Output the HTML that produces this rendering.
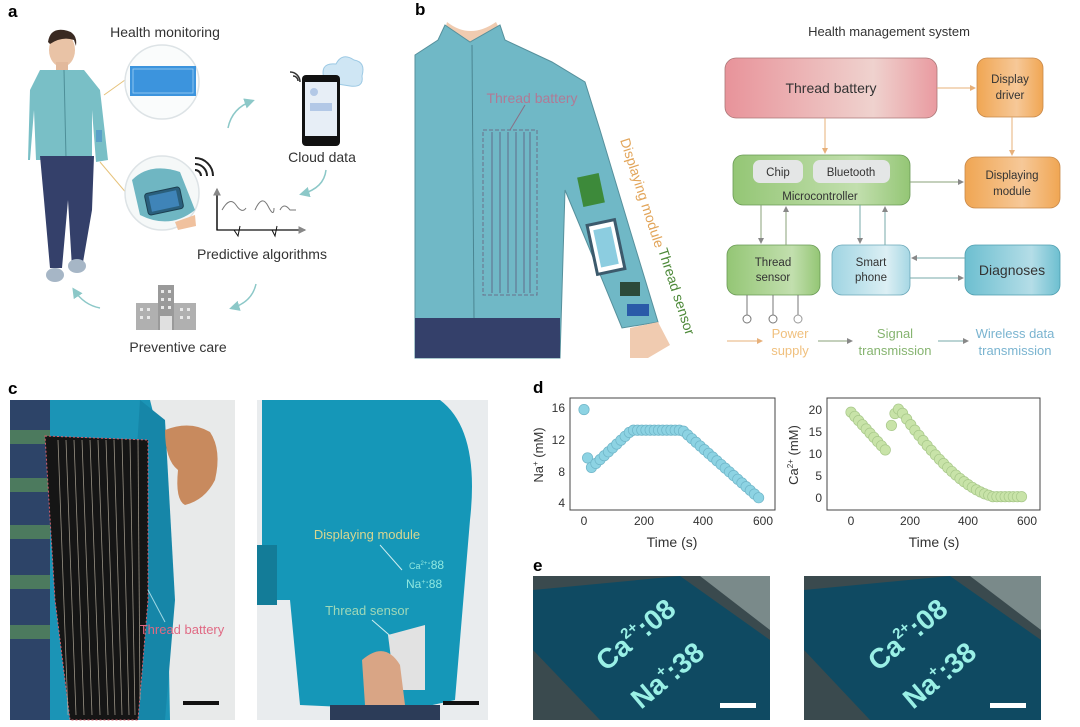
<!DOCTYPE html>
<html><head><meta charset="utf-8"><style>
html,body{margin:0;padding:0;background:#fff}
svg{display:block}
text{font-family:"Liberation Sans",sans-serif}
</style></head><body>
<svg width="1080" height="727" viewBox="0 0 1080 727" xmlns="http://www.w3.org/2000/svg">
<defs>
<linearGradient id="gbat" x1="0" x2="1"><stop offset="0" stop-color="#e8939a"/><stop offset="0.7" stop-color="#efd2ce"/><stop offset="1" stop-color="#e99aa0"/></linearGradient>
<linearGradient id="gor" x1="0" x2="1"><stop offset="0" stop-color="#f0a653"/><stop offset="0.6" stop-color="#f6c898"/><stop offset="1" stop-color="#f0a653"/></linearGradient>
<linearGradient id="ggr" x1="0" x2="1"><stop offset="0" stop-color="#94c675"/><stop offset="0.7" stop-color="#c2dfae"/><stop offset="1" stop-color="#94c675"/></linearGradient>
<linearGradient id="gbl" x1="0" x2="1"><stop offset="0" stop-color="#9fd4e2"/><stop offset="0.7" stop-color="#dceff4"/><stop offset="1" stop-color="#a6d7e4"/></linearGradient>
<linearGradient id="gdi" x1="0" x2="1"><stop offset="0" stop-color="#6dbfd0"/><stop offset="0.7" stop-color="#b4dde7"/><stop offset="1" stop-color="#6dbfd0"/></linearGradient>
<marker id="ar" markerWidth="6" markerHeight="6" refX="5" refY="3" orient="auto"><path d="M0,0 L6,3 L0,6 z" fill="#888"/></marker>
<marker id="ao" markerWidth="6" markerHeight="6" refX="5" refY="3" orient="auto"><path d="M0,0 L6,3 L0,6 z" fill="#e7b07a"/></marker>
<marker id="at" markerWidth="7" markerHeight="7" refX="5" refY="3.5" orient="auto"><path d="M0,0 L7,3.5 L0,7 z" fill="#8cc8c8"/></marker>
</defs>

<!-- ===== Panel a ===== -->
<text x="8" y="17" font-size="17" font-weight="bold">a</text>
<text x="165" y="37" font-size="14" text-anchor="middle" fill="#333">Health monitoring</text>
<ellipse cx="62" cy="50" rx="13" ry="17" fill="#e9c3a6"/>
<path d="M48,42 Q50,28 64,30 Q78,32 76,46 L74,40 Q62,36 50,44z" fill="#3a2a22"/>
<rect x="56" y="62" width="12" height="8" fill="#e2b99c"/>
<path d="M40,70 L84,70 L100,90 L108,160 L96,162 L92,110 L92,160 L36,160 L34,110 L30,160 L28,160 L30,90z" fill="#79bfc6"/>
<line x1="64" y1="70" x2="66" y2="158" stroke="#4e8f98" stroke-width="1"/>
<path d="M40,156 L94,156 L92,210 L82,268 L72,268 L68,200 L62,268 L50,268 L44,200z" fill="#34406a"/>
<ellipse cx="55" cy="275" rx="9" ry="7" fill="#a6b6c6"/>
<ellipse cx="77" cy="266" rx="9" ry="7" fill="#a6b6c6"/>
<rect x="96" y="130" width="6" height="12" fill="#5aa0c8"/>
<line x1="104" y1="95" x2="125" y2="80" stroke="#e6c27a" stroke-width="1"/>
<line x1="100" y1="162" x2="128" y2="195" stroke="#e6c27a" stroke-width="1"/>
<circle cx="162" cy="82" r="37" fill="#fafcfc" stroke="#dde3e6" stroke-width="1.5"/>
<rect x="130" y="66" width="66" height="30" fill="#3c94dd"/>
<rect x="133" y="69" width="60" height="24" fill="none" stroke="#9fd0f4" stroke-width="0.8"/>
<circle cx="162" cy="193" r="37" fill="#f5f8f8" stroke="#dde3e6" stroke-width="1.5"/>
<path d="M132,180 Q150,162 180,172 L195,210 Q170,230 140,215z" fill="#6fb6c2"/>
<rect x="146" y="190" width="36" height="22" rx="3" transform="rotate(-12 164 201)" fill="#2a5f7c" stroke="#1c3f50"/>
<rect x="150" y="193" width="28" height="16" transform="rotate(-12 164 201)" fill="#3f84b8"/>
<path d="M175,222 L195,215 L196,226 L178,230z" fill="#f0c19e"/>
<path d="M195,170 a6,6 0 0 1 6,6 M195,164 a12,12 0 0 1 12,12 M195,158 a18,18 0 0 1 18,18" stroke="#222" stroke-width="2" fill="none"/>
<path d="M228,128 Q232,108 252,101" stroke="#8cc8c8" stroke-width="1.5" fill="none" marker-end="url(#at)"/>
<path d="M326,170 Q324,188 302,194" stroke="#8cc8c8" stroke-width="1.5" fill="none" marker-end="url(#at)"/>
<path d="M256,284 Q252,302 232,308" stroke="#8cc8c8" stroke-width="1.5" fill="none" marker-end="url(#at)"/>
<path d="M100,308 Q84,305 74,290" stroke="#8cc8c8" stroke-width="1.5" fill="none" marker-end="url(#at)"/>
<path d="M325,82 Q318,62 336,64 Q342,52 354,60 Q366,62 362,76 Q364,88 350,86 Z" fill="#cfe6f4" stroke="#9cc9e4"/>
<rect x="302" y="75" width="38" height="71" rx="4" fill="#111"/>
<rect x="305" y="82" width="32" height="54" fill="#e7eef6"/>
<rect x="310" y="103" width="22" height="8" fill="#b3c8e6"/>
<circle cx="314" cy="92" r="4" fill="#b3c8e6"/>
<path d="M293,76 a5,5 0 0 1 5,5 M290,72 a10,10 0 0 1 10,10" stroke="#333" stroke-width="1.5" fill="none"/>
<text x="322" y="162" font-size="14" text-anchor="middle" fill="#333">Cloud data</text>
<path d="M217,190 L217,230 L305,230" stroke="#111" stroke-width="1.3" fill="none" marker-end="url(#ar)"/>
<line x1="217" y1="230" x2="217" y2="189" stroke="#111" stroke-width="1.3" marker-end="url(#ar)"/>
<path d="M222,210 Q230,196 236,205 T246,208 M255,210 Q262,194 268,206 T274,208 M280,210 Q284,202 290,210 L296,210" stroke="#777" stroke-width="1" fill="none"/>
<path d="M234,230 L238,236 L240,226 M272,230 L275,236 L277,226" stroke="#111" fill="none"/>
<text x="262" y="259" font-size="14" text-anchor="middle" fill="#333">Predictive algorithms</text>
<rect x="158" y="285" width="16" height="45" fill="#9a9a9a"/>
<rect x="136" y="303" width="22" height="27" fill="#b0b0b0"/>
<rect x="174" y="303" width="22" height="27" fill="#b0b0b0"/>
<g fill="#e8e8e8"><rect x="161" y="290" width="3" height="3"/><rect x="168" y="290" width="3" height="3"/><rect x="161" y="298" width="3" height="3"/><rect x="168" y="298" width="3" height="3"/><rect x="161" y="306" width="3" height="3"/><rect x="168" y="306" width="3" height="3"/><rect x="140" y="308" width="3" height="3"/><rect x="147" y="308" width="3" height="3"/><rect x="140" y="316" width="3" height="3"/><rect x="147" y="316" width="3" height="3"/><rect x="180" y="308" width="3" height="3"/><rect x="187" y="308" width="3" height="3"/><rect x="180" y="316" width="3" height="3"/><rect x="187" y="316" width="3" height="3"/></g>
<rect x="160" y="316" width="12" height="14" fill="#e0e0e0"/>
<text x="178" y="352" font-size="14" text-anchor="middle" fill="#333">Preventive care</text>

<!-- ===== Panel b ===== -->
<text x="415" y="15" font-size="17" font-weight="bold">b</text>
<path d="M447,22 Q470,40 496,22 L500,30 L470,45 L445,30z" fill="#f0cbb0"/>
<path d="M445,25 L470,42 L500,25 L505,40 L552,62 L585,82 L600,130 L630,230 L658,322 L622,328 L590,250 L565,190 L560,358 L415,358 L415,55 L438,40z" fill="#70b8c6" stroke="#56909c" stroke-width="1"/>
<path d="M415,318 L560,318 L560,358 L415,358z" fill="#34406a"/>
<line x1="472" y1="45" x2="474" y2="318" stroke="#4a8592" stroke-width="1"/>
<rect x="483" y="130" width="54" height="165" fill="none" stroke="#6a6f8a" stroke-dasharray="4,2" stroke-width="1"/>
<g stroke="#5f6c8a" stroke-width="1"><line x1="492" y1="132" x2="492" y2="293"/><line x1="500" y1="132" x2="500" y2="293"/><line x1="508" y1="132" x2="508" y2="293"/><line x1="516" y1="132" x2="516" y2="293"/><line x1="524" y1="132" x2="524" y2="293"/><line x1="530" y1="132" x2="530" y2="293"/></g>
<line x1="510" y1="130" x2="525" y2="105" stroke="#8a6f85"/>
<text x="532" y="103" font-size="14" text-anchor="middle" fill="#b07a95">Thread battery</text>
<rect x="580" y="175" width="22" height="30" transform="rotate(-12 591 190)" fill="#3d8a3a"/>
<rect x="592" y="222" width="28" height="50" transform="rotate(-12 606 247)" fill="#ffffff" stroke="#3c5a6c" stroke-width="3"/>
<rect x="597" y="228" width="18" height="38" transform="rotate(-12 606 247)" fill="#8ccde0"/>
<rect x="620" y="282" width="20" height="14" fill="#2c4a3a"/>
<rect x="627" y="304" width="22" height="12" fill="#2a5aa8"/>
<path d="M630,328 L658,322 L670,345 L648,358 L630,358z" fill="#f0cbb0"/>
<text transform="translate(620,140) rotate(72)" font-size="14" fill="#e2a55a">Displaying module</text>
<text transform="translate(658,250) rotate(72)" font-size="14" fill="#4e8a3a">Thread sensor</text>

<text x="889" y="36" font-size="13" text-anchor="middle" fill="#333">Health management system</text>
<rect x="725" y="58" width="212" height="60" rx="11" fill="url(#gbat)" stroke="#a77" stroke-width="0.8"/>
<text x="831" y="93" font-size="14" text-anchor="middle" fill="#333">Thread battery</text>
<rect x="977" y="58" width="66" height="59" rx="10" fill="url(#gor)" stroke="#c8894a" stroke-width="0.8"/>
<text x="1010" y="83" font-size="11.5" text-anchor="middle" fill="#333">Display</text>
<text x="1010" y="99" font-size="11.5" text-anchor="middle" fill="#333">driver</text>
<rect x="733" y="155" width="177" height="50" rx="10" fill="url(#ggr)" stroke="#6a9a56" stroke-width="0.8"/>
<rect x="753" y="160" width="50" height="23" rx="7" fill="#e4e6e6"/>
<rect x="813" y="160" width="77" height="23" rx="7" fill="#e4e6e6"/>
<text x="778" y="176" font-size="11.5" text-anchor="middle" fill="#333">Chip</text>
<text x="851" y="176" font-size="11.5" text-anchor="middle" fill="#333">Bluetooth</text>
<text x="820" y="200" font-size="11.5" text-anchor="middle" fill="#333">Microcontroller</text>
<rect x="965" y="157" width="95" height="51" rx="10" fill="url(#gor)" stroke="#c8894a" stroke-width="0.8"/>
<text x="1012" y="179" font-size="11.5" text-anchor="middle" fill="#333">Displaying</text>
<text x="1012" y="195" font-size="11.5" text-anchor="middle" fill="#333">module</text>
<rect x="727" y="245" width="93" height="50" rx="10" fill="url(#ggr)" stroke="#6a9a56" stroke-width="0.8"/>
<text x="773" y="266" font-size="11.5" text-anchor="middle" fill="#333">Thread</text>
<text x="773" y="281" font-size="11.5" text-anchor="middle" fill="#333">sensor</text>
<rect x="832" y="245" width="78" height="50" rx="10" fill="url(#gbl)" stroke="#6aa7b8" stroke-width="0.8"/>
<text x="871" y="266" font-size="11.5" text-anchor="middle" fill="#333">Smart</text>
<text x="871" y="281" font-size="11.5" text-anchor="middle" fill="#333">phone</text>
<rect x="965" y="245" width="95" height="50" rx="10" fill="url(#gdi)" stroke="#4f9fb0" stroke-width="0.8"/>
<text x="1012" y="275" font-size="14" text-anchor="middle" fill="#333">Diagnoses</text>
<g stroke-width="1" fill="none">
<line x1="937" y1="88" x2="975" y2="88" stroke="#e7b07a" marker-end="url(#ao)"/>
<line x1="1012" y1="117" x2="1012" y2="155" stroke="#e7b07a" marker-end="url(#ao)"/>
<line x1="825" y1="118" x2="825" y2="153" stroke="#e7b07a" marker-end="url(#ao)"/>
<line x1="910" y1="182" x2="963" y2="182" stroke="#8aa078" marker-end="url(#ar)"/>
<line x1="761" y1="205" x2="761" y2="243" stroke="#8aa078" marker-end="url(#ar)"/>
<line x1="786" y1="245" x2="786" y2="207" stroke="#8aa078" marker-end="url(#ar)"/>
<line x1="860" y1="205" x2="860" y2="243" stroke="#7aa" marker-end="url(#ar)"/>
<line x1="885" y1="245" x2="885" y2="207" stroke="#7aa" marker-end="url(#ar)"/>
<line x1="965" y1="258" x2="912" y2="258" stroke="#7aa" marker-end="url(#ar)"/>
<line x1="910" y1="278" x2="963" y2="278" stroke="#7aa" marker-end="url(#ar)"/>
<path d="M747,295 V315 M773,295 V315 M798,295 V315" stroke="#777"/>
</g>
<circle cx="747" cy="319" r="4" fill="#fff" stroke="#777"/>
<circle cx="773" cy="319" r="4" fill="#fff" stroke="#777"/>
<circle cx="798" cy="319" r="4" fill="#fff" stroke="#999"/>
<line x1="727" y1="341" x2="762" y2="341" stroke="#e7b07a" marker-end="url(#ao)"/>
<line x1="818" y1="341" x2="852" y2="341" stroke="#8aa078" marker-end="url(#ar)"/>
<line x1="938" y1="341" x2="968" y2="341" stroke="#7aa" marker-end="url(#ar)"/>
<text x="790" y="338" font-size="13" text-anchor="middle" fill="#f0c07e">Power</text>
<text x="790" y="355" font-size="13" text-anchor="middle" fill="#f0c07e">supply</text>
<text x="895" y="338" font-size="13" text-anchor="middle" fill="#86b470">Signal</text>
<text x="895" y="355" font-size="13" text-anchor="middle" fill="#86b470">transmission</text>
<text x="1015" y="338" font-size="13" text-anchor="middle" fill="#7ab4d0">Wireless data</text>
<text x="1015" y="355" font-size="13" text-anchor="middle" fill="#7ab4d0">transmission</text>

<!-- ===== Panel c ===== -->
<text x="8" y="394" font-size="17" font-weight="bold">c</text>
<rect x="10" y="400" width="225" height="320" fill="#e8eaea"/>
<rect x="10" y="400" width="40" height="320" fill="#2d4468"/>
<g fill="#4c7a5e"><rect x="10" y="430" width="40" height="14"/><rect x="10" y="478" width="40" height="14"/><rect x="10" y="525" width="40" height="14"/><rect x="10" y="575" width="40" height="14"/><rect x="10" y="625" width="40" height="14"/></g>
<path d="M50,400 L150,400 L165,460 L170,720 L50,720z" fill="#1b94b6"/>
<path d="M140,400 L165,420 L175,600 L165,720 L120,720z" fill="#1686a8"/>
<path d="M45,436 L148,440 L148,600 L138,720 L70,720 L55,600z" fill="#151515" stroke="#d8606e" stroke-width="1" stroke-dasharray="2,2"/>
<g stroke="#b9b0a0" stroke-width="0.8" opacity="0.8">
<line x1="58" y1="440" x2="68" y2="715"/><line x1="66" y1="440" x2="76" y2="715"/><line x1="74" y1="440" x2="84" y2="715"/><line x1="82" y1="440" x2="92" y2="715"/><line x1="90" y1="440" x2="100" y2="715"/><line x1="98" y1="440" x2="108" y2="715"/><line x1="106" y1="440" x2="115" y2="715"/><line x1="114" y1="440" x2="122" y2="715"/><line x1="122" y1="440" x2="129" y2="715"/><line x1="130" y1="440" x2="135" y2="715"/><line x1="138" y1="440" x2="140" y2="700"/></g>
<path d="M165,430 Q190,420 210,432 Q222,450 215,480 Q205,500 185,505 Q175,500 178,470 Q165,460 165,430z" fill="#c88a5e"/>
<line x1="148" y1="590" x2="165" y2="622" stroke="#9fd8e4"/>
<text x="182" y="634" font-size="13" text-anchor="middle" fill="#e06a84">Thread battery</text>
<rect x="183" y="701" width="36" height="4" fill="#111"/>
<rect x="257" y="400" width="231" height="320" fill="#e9ecee"/>
<path d="M262,400 L440,400 Q480,430 470,520 L455,700 L410,710 L300,705 L290,600 L262,600z" fill="#1597b8"/>
<rect x="257" y="545" width="20" height="60" fill="#137c98"/>
<path d="M388,635 L425,625 L425,690 L395,690z" fill="#e2e2e2"/>
<path d="M362,660 Q385,640 400,665 L405,705 L365,705z" fill="#d9a585"/>
<rect x="330" y="705" width="110" height="15" fill="#2c3c58"/>
<text x="367" y="539" font-size="13" text-anchor="middle" fill="#d8d690">Displaying module</text>
<line x1="380" y1="545" x2="402" y2="570" stroke="#cfeef0"/>
<text x="409" y="569" font-size="9" fill="#8fe8e0">Ca<tspan font-size="6" dy="-4">2+</tspan><tspan dy="4" font-size="12">:88</tspan></text>
<text x="406" y="588" font-size="12" fill="#8fe8e0">Na<tspan font-size="7" dy="-4">+</tspan><tspan dy="4">:88</tspan></text>
<text x="367" y="615" font-size="13" text-anchor="middle" fill="#9fd8b8">Thread sensor</text>
<line x1="372" y1="620" x2="395" y2="640" stroke="#cfeef0"/>
<rect x="443" y="701" width="36" height="4" fill="#111"/>

<!-- ===== Panel d ===== -->
<text x="533" y="393" font-size="17" font-weight="bold">d</text>
<rect x="570" y="398" width="205" height="112" fill="#fff" stroke="#444" stroke-width="1"/>
<rect x="827" y="398" width="213" height="112" fill="#fff" stroke="#444" stroke-width="1"/>
<g font-size="12" fill="#333" text-anchor="end">
<text x="565" y="412">16</text><text x="565" y="444">12</text><text x="565" y="476">8</text><text x="565" y="507">4</text>
<text x="822" y="414">20</text><text x="822" y="436">15</text><text x="822" y="458">10</text><text x="822" y="480">5</text><text x="822" y="502">0</text>
</g>
<g font-size="12" fill="#333" text-anchor="middle">
<text x="584" y="525">0</text><text x="644" y="525">200</text><text x="703" y="525">400</text><text x="763" y="525">600</text>
<text x="851" y="525">0</text><text x="910" y="525">200</text><text x="968" y="525">400</text><text x="1027" y="525">600</text>
<text x="672" y="547" font-size="14">Time (s)</text><text x="934" y="547" font-size="14">Time (s)</text>
</g>
<text transform="translate(543,455) rotate(-90)" font-size="13" fill="#333" text-anchor="middle">Na<tspan font-size="8" dy="-5">+</tspan><tspan dy="5"> (mM)</tspan></text>
<text transform="translate(798,455) rotate(-90)" font-size="13" fill="#333" text-anchor="middle">Ca<tspan font-size="8" dy="-5">2+</tspan><tspan dy="5"> (mM)</tspan></text>
<g id="na" fill="#8dd3e3" stroke="#6fb5c8" stroke-width="0.7"></g>
<g id="ca" fill="#c8e3a8" stroke="#a8c88a" stroke-width="0.7"></g>

<!-- ===== Panel e ===== -->
<text x="533" y="571" font-size="17" font-weight="bold">e</text>
<g>
<rect x="533" y="576" width="237" height="144" fill="#3a4a4e"/>
<path d="M533,590 L680,576 L770,640 L770,720 L600,720 L533,650z" fill="#0f4a62"/>
<path d="M700,576 L770,576 L770,630z" fill="#7a8a8a"/>
<text transform="translate(606,672) rotate(-40)" font-size="28" fill="#9af0e6" font-weight="bold">Ca<tspan font-size="15" dy="-12">2+</tspan><tspan dy="12">:08</tspan></text>
<text transform="translate(641,710) rotate(-40)" font-size="28" fill="#9af0e6" font-weight="bold">Na<tspan font-size="15" dy="-12">+</tspan><tspan dy="12">:38</tspan></text>
<rect x="720" y="703" width="36" height="5" fill="#fff"/>
</g>
<g>
<rect x="804" y="576" width="237" height="144" fill="#3a4a4e"/>
<path d="M804,590 L950,576 L1041,640 L1041,720 L870,720 L804,650z" fill="#0f4a62"/>
<path d="M970,576 L1041,576 L1041,630z" fill="#7a8a8a"/>
<text transform="translate(878,672) rotate(-40)" font-size="28" fill="#9af0e6" font-weight="bold">Ca<tspan font-size="15" dy="-12">2+</tspan><tspan dy="12">:08</tspan></text>
<text transform="translate(913,710) rotate(-40)" font-size="28" fill="#9af0e6" font-weight="bold">Na<tspan font-size="15" dy="-12">+</tspan><tspan dy="12">:38</tspan></text>
<rect x="990" y="703" width="36" height="5" fill="#fff"/>
</g>
</svg>
<script>
var NS="http://www.w3.org/2000/svg";
function dot(g,x,y){var c=document.createElementNS(NS,"circle");c.setAttribute("cx",x);c.setAttribute("cy",y);c.setAttribute("r",5.2);g.appendChild(c);}
var na=document.getElementById("na"),ca=document.getElementById("ca");
var nv=[[0,15.8],[12,9.7],[25,8.5]];
for(var t=40;t<=590;t+=14){var v;
 if(t<160)v=9+(t-40)/120*4.2;else if(t<330)v=13.2;else v=13.2-(t-330)/255*8.5;nv.push([t,v]);}
nv.forEach(function(p){dot(na,584+p[0]*0.298,408-(p[1]-16)*7.92);});
var cv=[];
for(var t=0;t<=120;t+=13){cv.push([t,19.5-t/120*8.8]);}
cv.push([138,16.5]);cv.push([150,19.2]);cv.push([162,20.2]);
for(var t=176;t<=590;t+=14){var v=t<480?20*Math.pow(Math.max(0,1-(t-165)/330),1.6)+0.3:0.3;cv.push([t,v]);}
cv.forEach(function(p){dot(ca,851+p[0]*0.293,410-(p[1]-20)*4.4);});
</script>
</body></html>
